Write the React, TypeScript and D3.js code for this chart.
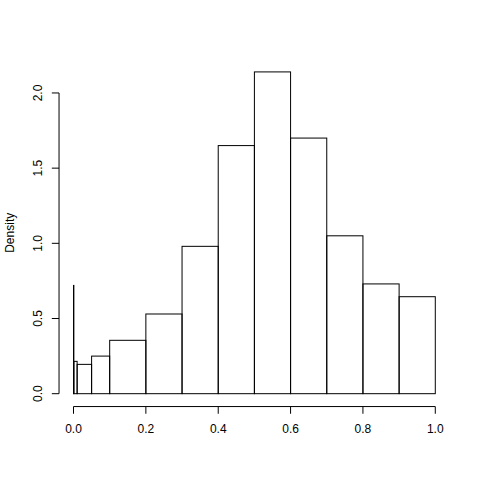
import React from 'react';
import * as d3 from 'd3';

// histogram breaks (unequal) and densities
const breaks = [0, 0.001, 0.01, 0.05, 0.1, 0.2, 0.3, 0.4, 0.5, 0.6, 0.7, 0.8, 0.9, 1.0];
const density = [0.72, 0.215, 0.195, 0.25, 0.355, 0.53, 0.98, 1.65, 2.14, 1.70, 1.05, 0.73, 0.645];
const xTicks = [0, 0.2, 0.4, 0.6, 0.8, 1.0];
const yTicks = [0, 0.5, 1.0, 1.5, 2.0];

const W = 480, H = 480;
const line = 14.4;
const plot = { left: 4.1 * line, right: W - 2.1 * line, top: 4.1 * line, bottom: H - 5.1 * line };

export default function App() {
  const ymax = d3.max(density) as number;
  const x = d3.scaleLinear().domain([-0.04, 1.04]).range([plot.left, plot.right]);
  const y = d3.scaleLinear().domain([-0.04 * ymax, 1.04 * ymax]).range([plot.bottom, plot.top]);
  const tick = 0.5 * line;
  const font = 'Liberation Sans, Arial, Helvetica, sans-serif';

  const bars = density.map((d, i) => ({ x0: breaks[i], x1: breaks[i + 1], d }));

  return (
    <svg width={W} height={H} style={{ position: 'absolute', left: 0, top: 0, background: '#fff' }}>
      <g fill="none" stroke="#000" strokeWidth={1}>
        {bars.map((b, i) => (
          <rect key={i} x={x(b.x0)} y={y(b.d)} width={x(b.x1) - x(b.x0)} height={y(0) - y(b.d)} />
        ))}
      </g>
      {/* x axis */}
      <g stroke="#000" strokeWidth={1}>
        <line x1={x(0)} x2={x(1)} y1={plot.bottom} y2={plot.bottom} />
        {xTicks.map(t => (
          <line key={t} x1={x(t)} x2={x(t)} y1={plot.bottom} y2={plot.bottom + tick} />
        ))}
      </g>
      <g fontFamily={font} fontSize={12} textAnchor="middle">
        {xTicks.map(t => (
          <text key={t} x={x(t)} y={plot.bottom + 2 * line - 2} >{t.toFixed(1)}</text>
        ))}
      </g>
      {/* y axis */}
      <g stroke="#000" strokeWidth={1}>
        <line x1={plot.left} x2={plot.left} y1={y(0)} y2={y(2)} />
        {yTicks.map(t => (
          <line key={t} x1={plot.left} x2={plot.left - tick} y1={y(t)} y2={y(t)} />
        ))}
      </g>
      <g fontFamily={font} fontSize={12} textAnchor="middle">
        {yTicks.map(t => (
          <text key={t} transform={`translate(${plot.left - line - 3},${y(t)}) rotate(-90)`}>{t.toFixed(1)}</text>
        ))}
        <text transform={`translate(${plot.left - 3 * line - 2},${(plot.top + plot.bottom) / 2}) rotate(-90)`}>Density</text>
      </g>
    </svg>
  );
}
